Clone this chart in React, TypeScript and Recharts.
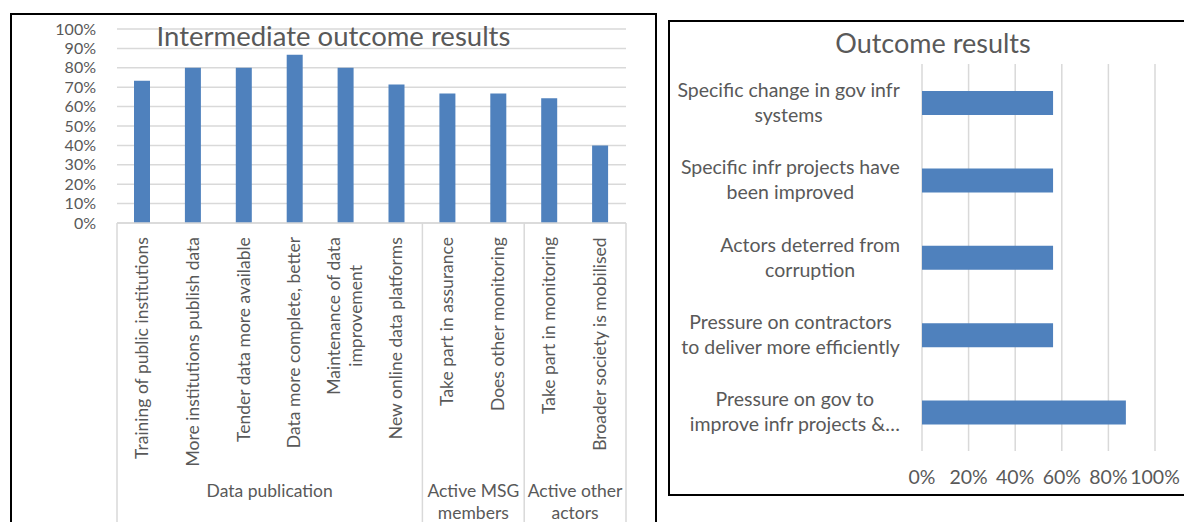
import React from 'react';
import { BarChart, Bar, XAxis, YAxis, CartesianGrid } from 'recharts';

const FONT = 'Lato, Carlito, Calibri, sans-serif';
const TEXT = '#595959';
const GRID = '#d9d9d9';
const BLUE = '#4f81bd';

// left chart: intermediate outcomes
const interLabels = [
  'Training of public institutions',
  'More institutions publish data',
  'Tender data more available',
  'Data more complete, better',
  'Maintenance of data\nimprovement',
  'New online data platforms',
  'Take part in assurance',
  'Does other monitoring',
  'Take part in monitoring',
  'Broader society is mobilised',
];
const interValues = [73.3, 80, 80, 86.7, 80, 71.4, 66.7, 66.7, 64.3, 40];
const interGroups = ['Data publication', 'Active MSG\nmembers', 'Active other\nactors'];
const interGroupSizes = [6, 2, 2];
const interTicks = [0, 10, 20, 30, 40, 50, 60, 70, 80, 90, 100];

// right chart: outcomes
const outcomeLabels = [
  'Specific change in gov infr\nsystems',
  'Specific infr projects have\nbeen improved',
  'Actors deterred from\ncorruption',
  'Pressure on contractors\nto deliver more efficiently',
  'Pressure on gov to\nimprove infr projects &\u2026',
];
const outcomeValues = [56.25, 56.25, 56.25, 56.25, 87.5];
const outcomeTicks = [0, 20, 40, 60, 80, 100];

const interData = interLabels.map((name, i) => ({ name, value: interValues[i] }));
const outcomeData = outcomeLabels.map((name, i) => ({ name, value: outcomeValues[i] }));

const LEFT_FS = 17.5;
const LEFT_TICK_FS = 16;
const RIGHT_FS = 19.5;
const RIGHT_TICK_FS = 19.5;
const LEFT_PLOT_W = 509;

let ctx: CanvasRenderingContext2D | null = null;
const measure = (s: string, size: number) => {
  if (!ctx) ctx = document.createElement('canvas').getContext('2d');
  if (!ctx) return s.length * size * 0.48;
  ctx.font = `${size}px Lato`;
  return ctx.measureText(s).width;
};

const groupStart = (index: number) => {
  let acc = 0;
  for (let g = 0; g < interGroupSizes.length; g++) {
    if (acc === index) return g;
    acc += interGroupSizes[g];
  }
  return -1;
};

const InterTick = (props: any) => {
  const { x, y, index, width, visibleTicksCount } = props;
  const lines = interLabels[index].split('\n');
  const w = Math.max(...lines.map((l) => measure(l, LEFT_FS)));
  const mid = 14 + w / 2;
  const n = visibleTicksCount || interLabels.length;
  const bw = (typeof width === 'number' && width > 0 ? width : LEFT_PLOT_W) / n;
  const g = groupStart(index);
  const parts: React.ReactNode[] = [];
  if (g >= 0) {
    const left = x - bw / 2;
    const cx = left + (interGroupSizes[g] * bw) / 2;
    parts.push(<line key="sep" x1={left} x2={left} y1={y} y2={y + 400} stroke={GRID} strokeWidth={1.5} />);
    interGroups[g].split('\n').forEach((l, i) => {
      parts.push(
        <text key={'g' + i} x={cx} y={y + 273.5 + i * 22} textAnchor="middle" fill={TEXT} fontSize={LEFT_FS} fontFamily={FONT}>
          {l}
        </text>
      );
    });
  }
  if (index === n - 1) {
    const right = x + bw / 2;
    parts.push(<line key="end" x1={right} x2={right} y1={y} y2={y + 400} stroke={GRID} strokeWidth={1.5} />);
  }
  return (
    <g>
      {parts}
      <text transform={`translate(${x},${y}) rotate(-90)`} textAnchor="middle" fill={TEXT} fontSize={LEFT_FS} fontFamily={FONT}>
        {lines.map((l, i) => (
          <tspan key={i} x={-mid} y={(i - (lines.length - 1) / 2) * 22 + LEFT_FS * 0.3}>
            {l}
          </tspan>
        ))}
      </text>
    </g>
  );
};

const OutcomeTick = (props: any) => {
  const { x, y, index } = props;
  const lines = outcomeLabels[index].split('\n');
  const w = Math.max(...lines.map((l) => measure(l, RIGHT_FS)));
  const cx = x - w / 2;
  return (
    <text textAnchor="middle" fill={TEXT} fontSize={RIGHT_FS} fontFamily={FONT}>
      {lines.map((l, i) => (
        <tspan key={i} x={cx} y={y + (i - (lines.length - 1) / 2) * 25 + 6.5}>
          {l}
        </tspan>
      ))}
    </text>
  );
};

const pct = (v: number) => `${v}%`;

const boxStyle: React.CSSProperties = {
  position: 'absolute',
  border: '2px solid #000',
  boxSizing: 'border-box',
  background: '#fff',
};

const titleStyle: React.CSSProperties = {
  position: 'absolute',
  left: 0,
  width: '100%',
  textAlign: 'center',
  fontFamily: FONT,
  lineHeight: '28px',
  color: TEXT,
  pointerEvents: 'none',
};

export default function App() {
  return (
    <div style={{ position: 'absolute', left: 0, top: 0, width: 1184, height: 522, overflow: 'hidden', background: '#fff' }}>
      <div style={{ ...boxStyle, left: 10, top: 13, width: 647, height: 537 }}>
        <BarChart width={643} height={533} data={interData} margin={{ top: 14, right: 29, left: 0, bottom: 0 }}>
          <CartesianGrid vertical={false} stroke={GRID} strokeWidth={1.5} />
          <YAxis
            type="number"
            domain={[0, 100]}
            ticks={interTicks}
            interval={0}
            tickFormatter={pct}
            width={105}
            axisLine={false}
            tickLine={false}
            tickSize={0}
            tickMargin={21}
            tick={{ fill: TEXT, fontSize: LEFT_TICK_FS, fontFamily: FONT }}
          />
          <XAxis
            dataKey="name"
            type="category"
            height={325}
            interval={0}
            axisLine={{ stroke: GRID, strokeWidth: 1.5 }}
            tickLine={false}
            tickSize={0}
            tickMargin={0}
            tick={<InterTick />}
          />
          <Bar dataKey="value" fill={BLUE} barSize={16} isAnimationActive={false} />
        </BarChart>
        <div style={{ ...titleStyle, top: 7, fontSize: 27.5 }}>Intermediate outcome results</div>
      </div>

      <div style={{ ...boxStyle, left: 668, top: 20, width: 530, height: 476 }}>
        <BarChart width={526} height={472} data={outcomeData} layout="vertical" margin={{ top: 42, right: 41, left: 0, bottom: 0 }}>
          <CartesianGrid horizontal={false} stroke={GRID} strokeWidth={1.5} />
          <XAxis
            type="number"
            domain={[0, 100]}
            ticks={outcomeTicks}
            interval={0}
            tickFormatter={pct}
            height={43}
            axisLine={false}
            tickLine={false}
            tickSize={0}
            tickMargin={19}
            tick={{ fill: TEXT, fontSize: RIGHT_TICK_FS, fontFamily: FONT }}
          />
          <YAxis
            dataKey="name"
            type="category"
            width={252}
            interval={0}
            axisLine={false}
            tickLine={false}
            tickSize={0}
            tickMargin={22}
            tick={<OutcomeTick />}
          />
          <Bar dataKey="value" fill={BLUE} barSize={24} isAnimationActive={false} />
        </BarChart>
        <div style={{ ...titleStyle, top: 7, fontSize: 27 }}>Outcome results</div>
      </div>
    </div>
  );
}
